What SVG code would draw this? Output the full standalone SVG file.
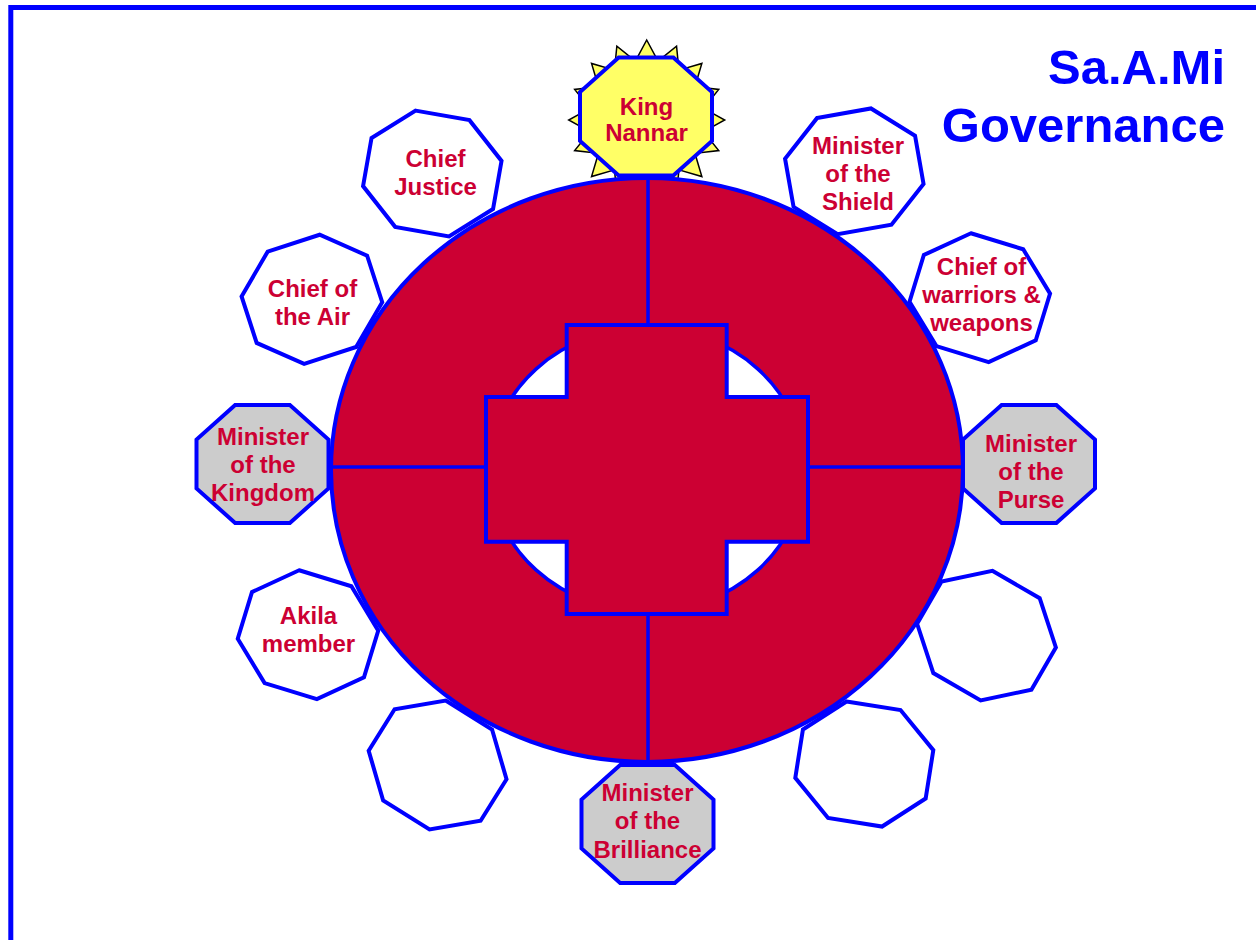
<svg xmlns="http://www.w3.org/2000/svg" xmlns:xlink="http://www.w3.org/1999/xlink" width="1256" height="940" viewBox="0 0 1256 940">
<style>
.lbl{font-family:"Liberation Sans",Arial,sans-serif;font-weight:bold;font-size:24px;fill:#CC0033;text-anchor:middle}
.title{font-family:"Liberation Sans",Arial,sans-serif;font-weight:bold;font-size:49px;fill:#0000FF;text-anchor:end}
.oct{stroke:#0000FF;stroke-width:4;stroke-linejoin:miter}
.w{fill:#FFFFFF}
.g{fill:#CCCCCC}
.y{fill:#FFFF66}
.blue{stroke:#0000FF;stroke-width:4}
.div{stroke:#0000FF;stroke-width:3.5;fill:none}
</style>
<defs>
<polygon id="octShape" points="-27.34,-59 27.34,-59 66,-24.44 66,24.44 27.34,59 -27.34,59 -66,24.44 -66,-24.44"/>
</defs>
<rect x="0" y="0" width="1256" height="940" fill="#FFFFFF"/>
<rect x="10.8" y="7.5" width="1300" height="1000" fill="none" stroke="#0000FF" stroke-width="5"/>

<g id="sun">
<polygon fill="#FFFF66" stroke="#000000" stroke-width="1.5" stroke-linejoin="miter" points="646.7,40 658.02,61.15 676.55,46.09 678.92,70.11 701.85,63.43 694.93,86.67 718.76,89.39 703.59,108.29 724.7,120 703.59,131.71 718.76,150.61 694.93,153.33 701.85,176.57 678.92,169.89 676.55,193.91 658.02,178.85 646.7,200 635.38,178.85 616.85,193.91 614.48,169.89 591.55,176.57 598.47,153.33 574.64,150.61 589.81,131.71 568.7,120 589.81,108.29 574.64,89.39 598.47,86.67 591.55,63.43 614.48,70.11 616.85,46.09 635.38,61.15"/>
</g>

<g id="table">
<ellipse cx="647" cy="470" rx="316" ry="292" fill="#CC0033" class="blue"/>
<ellipse cx="647" cy="469.5" rx="157" ry="142" fill="#FFFFFF" stroke="#0000FF" stroke-width="3.5"/>
</g>

<g id="connectors">
<line class="div" x1="648" y1="178" x2="648" y2="325"/>
<line class="div" x1="648" y1="614" x2="648" y2="762"/>
<line class="div" x1="331" y1="467" x2="486" y2="467"/>
<line class="div" x1="808" y1="467" x2="963" y2="467"/>
</g>

<g id="cross">
<polygon fill="#CC0033" class="blue" stroke-linejoin="miter" points="566.7,325 726.7,325 726.7,397 808,397 808,541.7 726.7,541.7 726.7,614 566.7,614 566.7,541.7 486,541.7 486,397 566.7,397"/>
</g>

<g id="king-nannar">
<use xlink:href="#octShape" href="#octShape" class="oct y" transform="translate(646,116.5)"/>
<text class="lbl" x="646.5" y="115">King</text>
<text class="lbl" x="646.5" y="141">Nannar</text>
</g>

<g id="chief-justice">
<use xlink:href="#octShape" href="#octShape" class="oct w" transform="translate(432.3,173.5) rotate(10)"/>
<text class="lbl" x="435.5" y="166.5">Chief</text>
<text class="lbl" x="435.5" y="195">Justice</text>
</g>

<g id="minister-of-the-shield">
<use xlink:href="#octShape" href="#octShape" class="oct w" transform="translate(854.3,171.3) rotate(-10)"/>
<text class="lbl" x="858" y="153.5">Minister</text>
<text class="lbl" x="858" y="181.5">of the</text>
<text class="lbl" x="858" y="210">Shield</text>
</g>

<g id="chief-of-the-air">
<use xlink:href="#octShape" href="#octShape" class="oct w" transform="translate(311.9,299.3) rotate(-18)"/>
<text class="lbl" x="312.5" y="296.5">Chief of</text>
<text class="lbl" x="312.5" y="325">the Air</text>
</g>

<g id="chief-of-warriors">
<use xlink:href="#octShape" href="#octShape" class="oct w" transform="translate(979.8,297.7) rotate(17)"/>
<text class="lbl" x="981.5" y="275">Chief of</text>
<text class="lbl" x="981.5" y="303">warriors &amp;</text>
<text class="lbl" x="981.5" y="330.5">weapons</text>
</g>

<g id="minister-of-the-kingdom">
<use xlink:href="#octShape" href="#octShape" class="oct g" transform="translate(262.5,464)"/>
<text class="lbl" x="263" y="445">Minister</text>
<text class="lbl" x="263" y="473">of the</text>
<text class="lbl" x="263" y="501">Kingdom</text>
</g>

<g id="minister-of-the-purse">
<use xlink:href="#octShape" href="#octShape" class="oct g" transform="translate(1029,464)"/>
<text class="lbl" x="1031" y="451.5">Minister</text>
<text class="lbl" x="1031" y="480">of the</text>
<text class="lbl" x="1031" y="508">Purse</text>
</g>

<g id="akila-member">
<use xlink:href="#octShape" href="#octShape" class="oct w" transform="translate(308,634.7) rotate(17)"/>
<text class="lbl" x="308.5" y="623.5">Akila</text>
<text class="lbl" x="308.5" y="651.5">member</text>
</g>

<g id="seat-right-1">
<use xlink:href="#octShape" href="#octShape" class="oct w" transform="translate(986.5,635.6) rotate(30)"/>
</g>

<g id="seat-left-bottom">
<use xlink:href="#octShape" href="#octShape" class="oct w" transform="translate(437.6,765) rotate(32)"/>
</g>

<g id="seat-right-bottom">
<use xlink:href="#octShape" href="#octShape" class="oct w" transform="translate(864.3,764) rotate(9)"/>
</g>

<g id="minister-of-the-brilliance">
<use xlink:href="#octShape" href="#octShape" class="oct g" transform="translate(647.5,824)"/>
<text class="lbl" x="647.5" y="800.5">Minister</text>
<text class="lbl" x="647.5" y="829">of the</text>
<text class="lbl" x="647.5" y="858">Brilliance</text>
</g>

<g id="title">
<text class="title" x="1225" y="83.5">Sa.A.Mi</text>
<text class="title" x="1225" y="142">Governance</text>
</g>
</svg>
